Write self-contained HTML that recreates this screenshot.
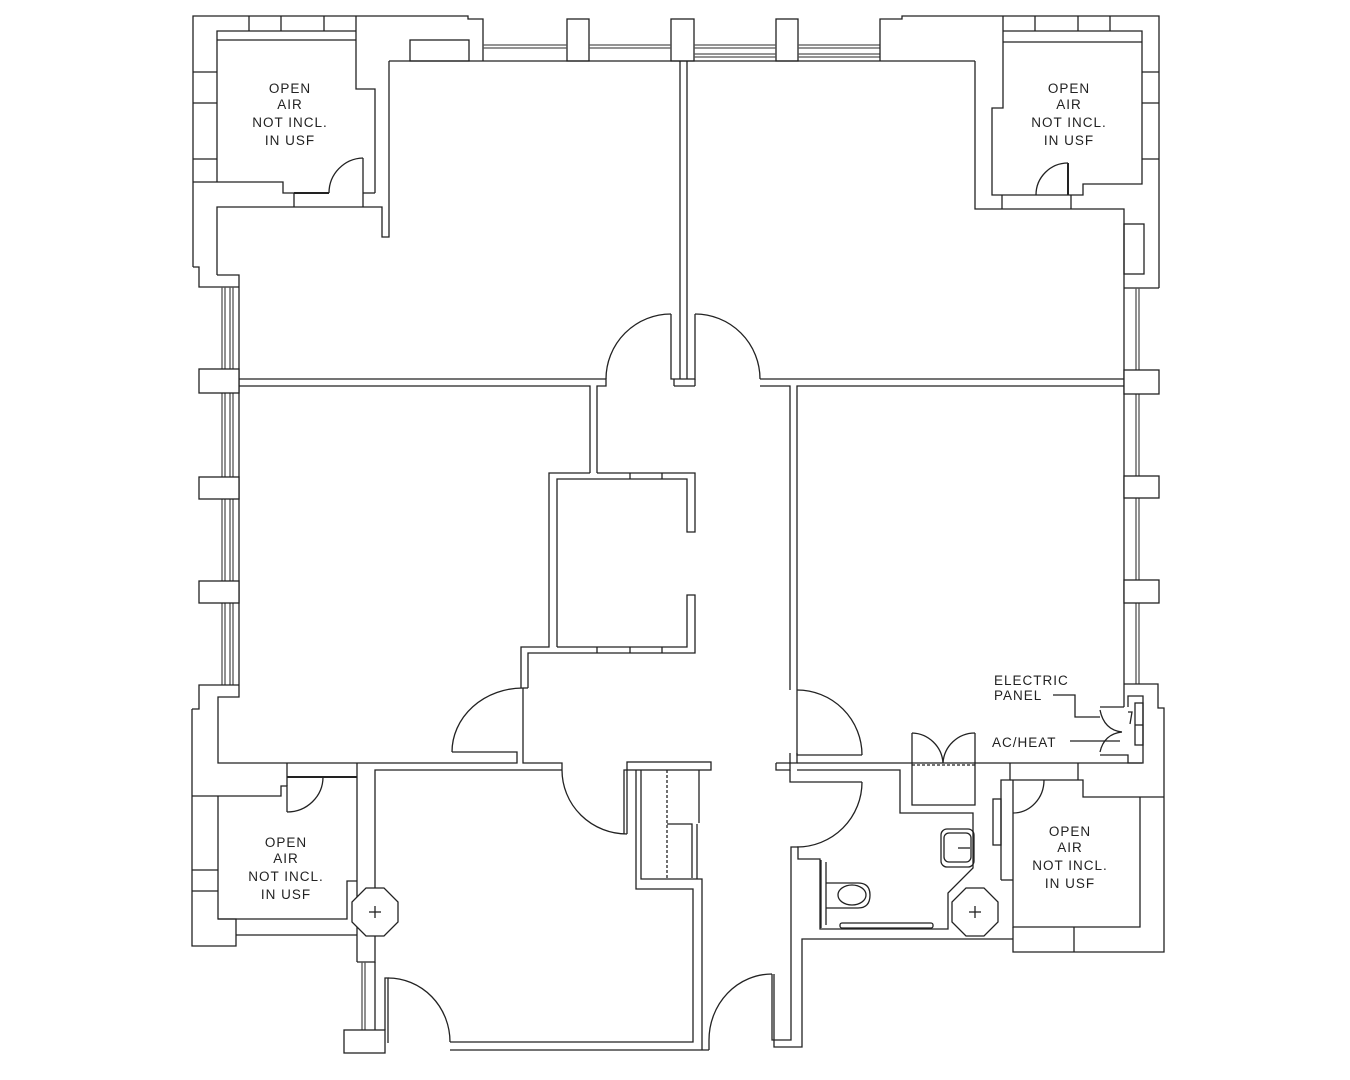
<!DOCTYPE html>
<html><head><meta charset="utf-8"><style>
html,body{margin:0;padding:0;background:#fff;}
svg{display:block;}
text{font-family:"Liberation Sans",sans-serif;font-size:13.5px;fill:#222;letter-spacing:1px;}
</style></head><body>
<svg width="1350" height="1080" viewBox="0 0 1350 1080" xmlns="http://www.w3.org/2000/svg">
<g fill="none" stroke="#222" stroke-width="1.3">
<!-- TOP LEFT -->
<polyline points="193,267 193,16 468,16 468,19 483,19 483,61"/>
<polyline points="193,267 199,267 199,287 239,287"/>
<polyline points="217,182 217,31 356,31"/>
<line x1="217" y1="40" x2="356" y2="40"/>
<polyline points="356,16 356,89 375,89 375,193"/>
<line x1="249" y1="16" x2="249" y2="31"/><line x1="281" y1="16" x2="281" y2="31"/><line x1="324" y1="16" x2="324" y2="31"/>
<line x1="193" y1="72" x2="217" y2="72"/><line x1="193" y1="103" x2="217" y2="103"/><line x1="193" y1="159" x2="217" y2="159"/>
<polyline points="193,182 283,182 283,193 329,193"/>
<line x1="294" y1="193" x2="329" y2="193" stroke-width="2"/>
<line x1="363" y1="158" x2="363" y2="207"/>
<path d="M363,158 A35,35 0 0 0 329,193"/>
<line x1="363" y1="193" x2="375" y2="193"/>
<line x1="294" y1="193" x2="294" y2="207"/>
<polyline points="217,275 217,207 382,207 382,237 389,237 389,61"/>
<polyline points="217,275 239,275 239,287"/>
<rect x="410" y="40" width="59" height="21"/>
<!-- top windows -->
<line x1="389" y1="61" x2="975" y2="61"/>
<rect x="567" y="19" width="22" height="42"/><rect x="671" y="19" width="23" height="42"/><rect x="776" y="19" width="22" height="42"/>
<g stroke="#555"><line x1="483" y1="45" x2="567" y2="45"/><line x1="483" y1="48" x2="567" y2="48"/>
<line x1="589" y1="45" x2="671" y2="45"/><line x1="589" y1="48" x2="671" y2="48"/>
<line x1="694" y1="45" x2="776" y2="45"/><line x1="694" y1="48" x2="776" y2="48"/><line x1="694" y1="54" x2="776" y2="54"/><line x1="694" y1="57" x2="776" y2="57"/>
<line x1="798" y1="45" x2="880" y2="45"/><line x1="798" y1="48" x2="880" y2="48"/><line x1="798" y1="54" x2="880" y2="54"/><line x1="798" y1="57" x2="880" y2="57"/></g>
<!-- TOP RIGHT -->
<polyline points="880,61 880,19 902,19 902,16 1159,16 1159,288"/>
<polyline points="975,61 975,209 1124,209 1124,707"/>
<polyline points="1003,16 1003,108 992,108 992,195 1083,195 1083,184 1142,184 1142,31 1003,31"/>
<line x1="1003" y1="42" x2="1142" y2="42"/>
<line x1="1035" y1="16" x2="1035" y2="31"/><line x1="1078" y1="16" x2="1078" y2="31"/><line x1="1110" y1="16" x2="1110" y2="31"/>
<line x1="1142" y1="72" x2="1159" y2="72"/><line x1="1142" y1="103" x2="1159" y2="103"/><line x1="1142" y1="159" x2="1159" y2="159"/>
<line x1="1068" y1="163" x2="1068" y2="195" stroke-width="2"/>
<path d="M1068,163 A32,32 0 0 0 1036,195"/>
<line x1="1002" y1="195" x2="1002" y2="209"/><line x1="1071" y1="195" x2="1071" y2="209"/>
<rect x="1124" y="224" width="20" height="50"/>
<line x1="1124" y1="288" x2="1159" y2="288"/>
<!-- right windows -->
<g stroke="#555"><line x1="1136" y1="288" x2="1136" y2="684"/><line x1="1139" y1="288" x2="1139" y2="684"/></g>
<rect x="1124" y="370" width="35" height="24" fill="#fff"/><rect x="1124" y="476" width="35" height="22" fill="#fff"/><rect x="1124" y="580" width="35" height="23" fill="#fff"/>
<!-- left windows -->
<g stroke="#555"><line x1="222" y1="287" x2="222" y2="685"/><line x1="225" y1="287" x2="225" y2="685"/><line x1="230" y1="287" x2="230" y2="685"/><line x1="233" y1="287" x2="233" y2="685"/></g>
<line x1="239" y1="287" x2="239" y2="685"/>
<rect x="199" y="369" width="40" height="24" fill="#fff"/><rect x="199" y="477" width="40" height="22" fill="#fff"/><rect x="199" y="581" width="40" height="22" fill="#fff"/>
<!-- center divider + doors -->
<line x1="680" y1="61" x2="680" y2="379"/><line x1="687" y1="61" x2="687" y2="379"/>
<polyline points="671,314 671,379 695,379 695,314"/>
<line x1="674" y1="379" x2="674" y2="386"/><line x1="695" y1="379" x2="695" y2="386"/><line x1="674" y1="386" x2="695" y2="386"/>
<path d="M671,314 A65,65 0 0 0 606,379"/>
<path d="M695,314 A65,65 0 0 1 760,379"/>
<polyline points="239,379 606,379 606,386 597,386 597,473"/>
<polyline points="239,386 590,386 590,473"/>
<polyline points="760,379 1124,379"/>
<polyline points="760,386 790,386 790,690"/>
<polyline points="797,690 797,386 1124,386"/>
<!-- center room -->
<polyline points="590,473 549,473 549,647 521,647 521,688"/>
<polyline points="597,473 695,473 695,532 687,532 687,479 557,479 557,647"/>
<polyline points="528,688 528,653 695,653 695,595 687,595 687,647 557,647"/>
<line x1="630" y1="473" x2="630" y2="479"/><line x1="662" y1="473" x2="662" y2="479"/>
<line x1="597" y1="647" x2="597" y2="653"/><line x1="630" y1="647" x2="630" y2="653"/><line x1="662" y1="647" x2="662" y2="653"/>
<!-- bottom left -->
<polyline points="192,709 192,946 236,946 236,919 218,919 218,796"/>
<polyline points="239,685 199,685 199,709 192,709"/>
<polyline points="239,685 239,697 218,697 218,763 517,763 517,752 452,752"/>
<path d="M452,752 A71,64 0 0 1 523,688"/>
<polyline points="523,688 528,688"/>
<polyline points="523,688 523,763 562,763 562,770"/>
<polyline points="192,796 281,796 281,786 287,786 287,812"/>
<line x1="287" y1="763" x2="287" y2="786"/>
<line x1="287" y1="777" x2="357" y2="777" stroke-width="2"/>
<path d="M323,777 A36,35 0 0 1 287,812"/>
<line x1="192" y1="870" x2="218" y2="870"/><line x1="192" y1="891" x2="218" y2="891"/>
<polyline points="218,919 347,919 347,881 357,881"/>
<line x1="236" y1="935" x2="357" y2="935"/>
<line x1="357" y1="763" x2="357" y2="962"/>
<polyline points="375,888 375,770 562,770"/>
<path d="M562,770 A65,64 0 0 0 627,834"/>
<polyline points="624,834 624,770 627,770 627,834"/>
<polygon points="366,888 384,888 398,902 398,922 384,936 366,936 352,922 352,902" fill="#fff"/>
<line x1="369" y1="912" x2="381" y2="912"/><line x1="375" y1="906" x2="375" y2="918"/>
<polyline points="357,962 375,962 375,936"/>
<g stroke="#555"><line x1="362" y1="962" x2="362" y2="1030"/><line x1="365" y1="962" x2="365" y2="1030"/></g>
<line x1="375" y1="962" x2="375" y2="1030"/>
<rect x="344" y="1030" width="41" height="23"/>
<polyline points="385,1030 385,978 388,978 388,1043"/>
<path d="M388,978 A62,64 0 0 1 450,1042"/>
<polyline points="450,1042 693,1042 693,889 636,889 636,770"/>
<polyline points="450,1050 709,1050"/>
<!-- closet/stair -->
<rect x="627" y="762" width="84" height="8"/>
<polyline points="641,770 641,879 702,879 702,1050"/>
<line x1="667" y1="770" x2="667" y2="879" stroke-dasharray="3,2"/>
<line x1="699" y1="770" x2="699" y2="823"/>
<polyline points="667,824 692,824 692,878"/>
<line x1="697" y1="824" x2="697" y2="879"/>
<!-- bottom-center right door -->
<polyline points="709,1050 709,1040"/>
<path d="M709,1040 A63,66 0 0 1 772,974"/>
<polyline points="772,974 772,1040 791,1040 791,847 798,847 798,859 820,859 820,929 948,929 948,893 973,868 973,813 900,813 900,770 797,770"/>
<polyline points="774,974 774,1047 802,1047 802,939 1013,939"/>
<!-- right side corridor doors -->
<path d="M797,690 A65,65 0 0 1 862,755"/>
<polyline points="862,755 797,755 797,690"/>
<polyline points="797,753 797,763 790,763 790,753"/>
<polyline points="797,782 862,782"/>
<path d="M862,782 A65,65 0 0 1 797,847"/>
<polyline points="776,763 790,763 790,770 776,770 776,763"/>
<polyline points="790,770 790,782 797,782"/>
<line x1="797" y1="763" x2="1142" y2="763"/>
<!-- AC box -->
<polyline points="912,733 912,805 975,805 975,733"/>
<line x1="912" y1="765" x2="975" y2="765" stroke-dasharray="3,2"/>
<path d="M912,733 A32,32 0 0 1 943,763"/>
<path d="M975,733 A32,32 0 0 0 943,763"/>
<!-- bathroom fixtures -->
<rect x="941" y="829" width="33" height="38" rx="6"/>
<rect x="944" y="833" width="27" height="29" rx="5"/>
<line x1="958" y1="848" x2="970" y2="848"/>
<line x1="821" y1="860" x2="821" y2="928"/><line x1="826" y1="862" x2="826" y2="925"/>
<path d="M826,883 L858,883 Q870,883 870,895 Q870,908 858,908 L826,908"/>
<ellipse cx="852" cy="895" rx="14" ry="10"/>
<rect x="840" y="923" width="93" height="5" rx="2"/>
<polygon points="966,888 984,888 998,902 998,922 984,936 966,936 952,922 952,902" fill="#fff"/>
<line x1="969" y1="912" x2="981" y2="912"/><line x1="975" y1="906" x2="975" y2="918"/>
<!-- bottom right open air -->
<polyline points="1001,880 1001,780 1010,780 1010,763"/>
<polyline points="1010,780 1083,780 1083,797 1164,797"/>
<line x1="1078" y1="763" x2="1078" y2="780"/>
<polyline points="1013,780 1013,927 1140,927 1140,797"/>
<polyline points="1001,880 1013,880"/>
<polyline points="1013,927 1013,952 1164,952 1164,708 1158,708 1158,684 1124,684"/>
<line x1="1074" y1="927" x2="1074" y2="952"/>
<path d="M1044,780 A31,33 0 0 1 1013,813"/>
<rect x="993" y="799" width="8" height="46"/>
<!-- electric closet -->
<line x1="1100" y1="707" x2="1124" y2="707"/>
<polyline points="1128,707 1128,696 1143,696 1143,763 1128,763 1128,755 1100,755"/>
<rect x="1135" y="703" width="8" height="42"/>
<line x1="1135" y1="725" x2="1143" y2="725"/>
<path d="M1100,710 Q1104,730 1122,732"/>
<path d="M1100,752 Q1104,734 1122,732"/>
<polyline points="1128,712 1132,712 1130,724"/>
<!-- leaders -->
<polyline points="1053,695 1075,695 1075,717 1100,717"/>
<line x1="1070" y1="741" x2="1120" y2="741"/>
</g>
<g text-anchor="middle">
<text x="290" y="93">OPEN</text><text x="290" y="109">AIR</text><text x="290" y="127">NOT INCL.</text><text x="290" y="145">IN USF</text>
<text x="1069" y="93">OPEN</text><text x="1069" y="109">AIR</text><text x="1069" y="127">NOT INCL.</text><text x="1069" y="145">IN USF</text>
<text x="286" y="847">OPEN</text><text x="286" y="863">AIR</text><text x="286" y="881">NOT INCL.</text><text x="286" y="899">IN USF</text>
<text x="1070" y="836">OPEN</text><text x="1070" y="852">AIR</text><text x="1070" y="870">NOT INCL.</text><text x="1070" y="888">IN USF</text>
</g>
<text x="994" y="685">ELECTRIC</text>
<text x="994" y="700">PANEL</text>
<text x="992" y="747">AC/HEAT</text>
</svg>
</body></html>
